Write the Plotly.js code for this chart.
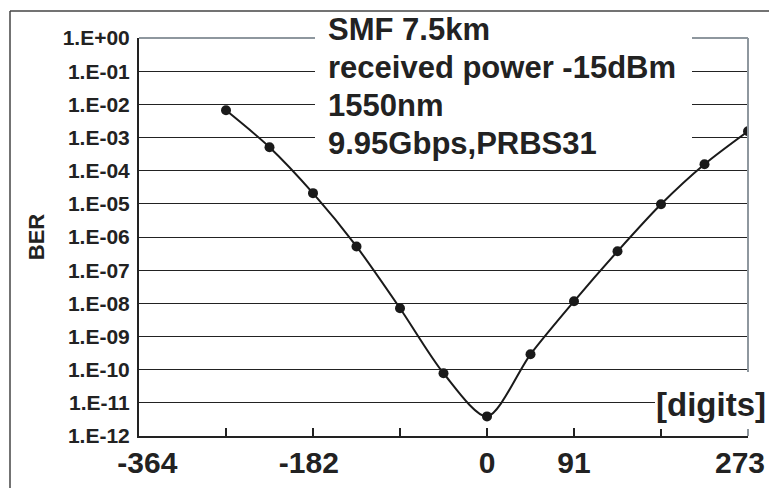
<!DOCTYPE html>
<html>
<head>
<meta charset="utf-8">
<script src="https://cdn.plot.ly/plotly-3.0.1.min.js"></script>
<style>
html,body{margin:0;padding:0;background:#fff;}
#chart{width:769px;height:488px;}
</style>
</head>
<body>
<div id="chart"></div>
<script>
// ---- data ----
const offsetDigits = [-273, -227.5, -182, -136.5, -91, -45.5, 0, 45.5, 91, 136.5, 182, 227.5, 273];
const berValues = [6.6e-3, 5.1e-4, 2.1e-5, 5.2e-7, 7.1e-9, 7.8e-11, 3.9e-12, 2.9e-10, 1.15e-8, 3.7e-7, 9.7e-6, 1.56e-4, 1.54e-3];
const xTickVals = [-364, -273, -182, -91, 0, 91, 182, 273];
const xTickText = ['\u00a0\u00a0-364', '', '-182\u00a0', '', '0', '91', '', ''];
const xEndLabel = {value: 273, text: '273'};
const yTickVals = [1e-12,1e-11,1e-10,1e-9,1e-8,1e-7,1e-6,1e-5,1e-4,1e-3,1e-2,1e-1,1e0];
const yTickText = ['1.E-12','1.E-11','1.E-10','1.E-09','1.E-08','1.E-07','1.E-06','1.E-05','1.E-04','1.E-03','1.E-02','1.E-01','1.E+00'];
const infoLines = ['SMF 7.5km', 'received power -15dBm', '1550nm', '9.95Gbps,PRBS31'];
const unitLabel = '[digits]';
const yTitle = 'BER';

// ---- layout helpers (pixel -> paper) ----
const W = 769, H = 488;
const M = {l: 139, r: 21, t: 38, b: 52};
const PW = W - M.l - M.r, PH = H - M.t - M.b;
const px = v => (v - M.l) / PW;
const py = v => (H - M.b - v) / PH;

const FONT = '"Liberation Sans", Arial, Helvetica, sans-serif';
const TXT = '#222222';
const GRAYLINE = '#8e979e';
const XFONT = {family: FONT, size: 30, weight: 700, color: TXT};

const trace = {
  x: offsetDigits,
  y: berValues,
  type: 'scatter',
  mode: 'lines+markers',
  line: {color: '#1a1a1a', width: 2, shape: 'spline', smoothing: 0.8},
  marker: {color: '#1a1a1a', size: 10},
  showlegend: false,
  hoverinfo: 'x+y'
};

const infoAnnotations = infoLines.map((t, i) => ({
  xref: 'paper', yref: 'paper', x: px(326), y: py(30 + i * 37.7),
  xanchor: 'left', yanchor: 'middle', align: 'left',
  text: t, showarrow: false,
  font: {family: FONT, size: 31, weight: 700, color: TXT}
}));

const layout = {
  width: W, height: H,
  margin: M,
  paper_bgcolor: '#ffffff',
  plot_bgcolor: '#ffffff',
  font: {family: FONT, color: TXT},
  showlegend: false,
  xaxis: {
    range: [-364, 273],
    tickmode: 'array',
    tickvals: xTickVals,
    ticktext: xTickText,
    ticks: 'inside', ticklen: 8, tickwidth: 1.5, tickcolor: '#222',
    showgrid: false, zeroline: false,
    showline: true, linecolor: '#222', linewidth: 2,
    tickfont: XFONT,
    ticklabelstandoff: -1,
    fixedrange: true
  },
  yaxis: {
    type: 'log',
    range: [-12, 0],
    tickmode: 'array',
    tickvals: yTickVals,
    ticktext: yTickText,
    ticks: '',
    showgrid: true, gridcolor: '#222', gridwidth: 1,
    zeroline: false,
    showline: true, linecolor: '#222', linewidth: 2,
    tickfont: {family: FONT, size: 21, weight: 700, color: TXT},
    ticklabelstandoff: 3,
    title: {text: yTitle, font: {family: FONT, size: 22, weight: 700, color: TXT}, standoff: 12},
    fixedrange: true
  },
  shapes: [
    // gray top & right plot border
    {type: 'line', xref: 'paper', yref: 'paper', x0: 0, x1: 1, y0: 1, y1: 1, line: {color: GRAYLINE, width: 2}, layer: 'above'},
    {type: 'line', xref: 'paper', yref: 'paper', x0: 1, x1: 1, y0: 0, y1: 1, line: {color: GRAYLINE, width: 2}, layer: 'above'},
    // outer chart frame (top & left visible)
    {type: 'line', xref: 'paper', yref: 'paper', x0: px(10), x1: px(780), y0: py(11), y1: py(11), line: {color: '#444', width: 1.5}, layer: 'above'},
    {type: 'line', xref: 'paper', yref: 'paper', x0: px(10), x1: px(10), y0: py(11), y1: py(500), line: {color: '#444', width: 1.5}, layer: 'above'},
    // white text boxes
    {type: 'rect', xref: 'paper', yref: 'paper', x0: px(315), x1: px(692), y0: py(13), y1: py(154), fillcolor: '#ffffff', line: {width: 0}, layer: 'above'},
    {type: 'rect', xref: 'paper', yref: 'paper', x0: px(655), x1: px(775), y0: py(372), y1: py(429), fillcolor: '#ffffff', line: {width: 0}, layer: 'above'}
  ],
  annotations: infoAnnotations.concat([
    {xref: 'paper', yref: 'paper', x: px(768), y: py(404), xanchor: 'right', yanchor: 'middle', align: 'right',
     text: unitLabel, showarrow: false,
     font: {family: FONT, size: 33, weight: 700, color: TXT}},
    {xref: 'x', yref: 'paper', x: xEndLabel.value, y: py(462), xanchor: 'right', yanchor: 'middle', xshift: 19,
     text: xEndLabel.text, showarrow: false, font: XFONT}
  ])
};

Plotly.newPlot('chart', [trace], layout, {displayModeBar: false, staticPlot: true});
</script>
</body>
</html>
